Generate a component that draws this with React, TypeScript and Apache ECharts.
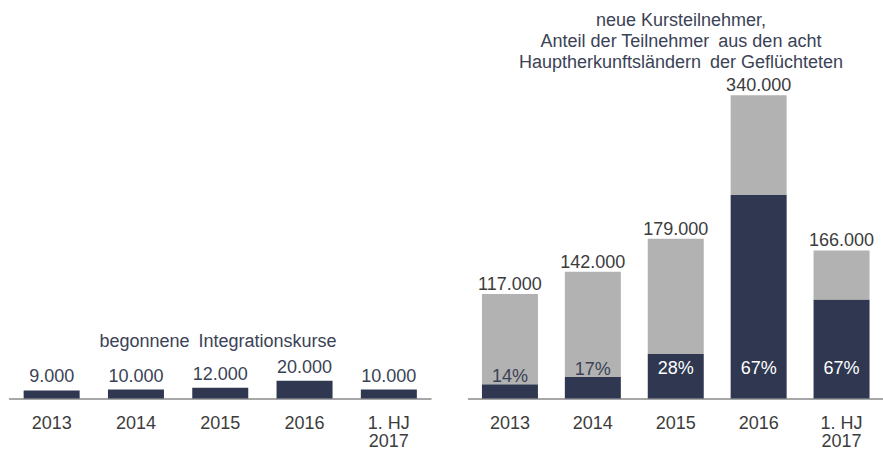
import React, { useEffect, useRef } from "react";
import * as echarts from "echarts";

const categories = ["2013", "2014", "2015", "2016", "1. HJ\n2017"];
const startedCourses = [9000, 10000, 12000, 20000, 10000];
const refugeeParticipants = [16000, 24000, 50000, 228000, 111000];
const otherParticipants = [101000, 118000, 129000, 112000, 55000];
const totalLabels = [117000, 142000, 179000, 340000, 166000];
const sharePercent = [14, 17, 28, 67, 67];

const leftTitle = "begonnene\u2002Integrationskurse";
const rightTitle =
  "neue Kursteilnehmer,\nAnteil der Teilnehmer\u2002aus den acht\nHauptherkunftsländern\u2002der Geflüchteten";

const FONT = "'Liberation Sans', Arial, Helvetica, sans-serif";
const DARK = "#2f3850";
const GRAY = "#b2b2b2";
const SLATE = "#3a4256";
const TEXT = "#3c3c3c";

const fmt = (v: number) => String(v).replace(/\B(?=(\d{3})+(?!\d))/g, ".");

export default function App() {
  const ref = useRef<HTMLDivElement>(null);
  useEffect(() => {
    if (!ref.current) return;
    const chart = echarts.init(ref.current, undefined, { renderer: "svg" });
    const xAxisBase = {
      type: "category" as const,
      data: categories,
      axisLine: { show: true, lineStyle: { color: "#8a8a8a", width: 1.5 } },
      axisTick: { show: false },
      axisLabel: {
        color: TEXT,
        fontSize: 18,
        fontFamily: FONT,
        lineHeight: 18.5,
        margin: 15,
        interval: 0,
      },
    };
    const yAxisBase = {
      type: "value" as const,
      show: false,
      min: 0,
      max: 380000,
      splitLine: { show: false },
    };
    chart.setOption({
      animation: false,
      textStyle: { fontFamily: FONT },
      grid: [
        { left: 9.5, width: 421.5, top: 59.5, bottom: 53.5 },
        { left: 468.5, width: 424, top: 59.5, bottom: 53.5 },
      ],
      xAxis: [
        { ...xAxisBase, gridIndex: 0 },
        { ...xAxisBase, gridIndex: 1 },
      ],
      yAxis: [
        { ...yAxisBase, gridIndex: 0 },
        { ...yAxisBase, gridIndex: 1 },
      ],
      graphic: [
        {
          type: "text",
          x: 218,
          y: 340.7,
          style: {
            text: leftTitle,
            fill: SLATE,
            font: `18px ${FONT}`,
            textAlign: "center",
            textVerticalAlign: "middle",
          },
        },
        {
          type: "text",
          x: 681,
          y: 9,
          style: {
            text: rightTitle,
            fill: SLATE,
            font: `18px ${FONT}`,
            lineHeight: 21,
            textAlign: "center",
            textVerticalAlign: "top",
          },
        },
      ],
      series: [
        {
          type: "bar",
          xAxisIndex: 0,
          yAxisIndex: 0,
          data: startedCourses,
          barWidth: 56,
          itemStyle: { color: DARK },
          label: {
            show: true,
            position: "top",
            distance: 5,
            color: SLATE,
            fontSize: 18,
            fontFamily: FONT,
            formatter: (p: any) => fmt(p.value),
          },
        },
        {
          type: "bar",
          xAxisIndex: 1,
          yAxisIndex: 1,
          stack: "p",
          data: refugeeParticipants.map((v, i) => ({
            value: v,
            label:
              i < 2
                ? { position: "top", distance: -1, color: SLATE }
                : { position: "insideBottom", distance: 22, color: "#ffffff" },
          })),
          barWidth: 56,
          itemStyle: { color: DARK },
          label: {
            show: true,
            fontSize: 18,
            fontFamily: FONT,
            formatter: (p: any) => sharePercent[p.dataIndex] + "%",
          },
        },
        {
          type: "bar",
          xAxisIndex: 1,
          yAxisIndex: 1,
          stack: "p",
          data: otherParticipants,
          barWidth: 56,
          itemStyle: { color: GRAY },
          label: {
            show: true,
            position: "top",
            distance: 1,
            color: TEXT,
            fontSize: 18,
            fontFamily: FONT,
            formatter: (p: any) => fmt(totalLabels[p.dataIndex]),
          },
        },
      ],
    });
    return () => chart.dispose();
  }, []);
  return (
    <div
      ref={ref}
      style={{ position: "absolute", left: 0, top: 0, width: 883, height: 452 }}
    />
  );
}
